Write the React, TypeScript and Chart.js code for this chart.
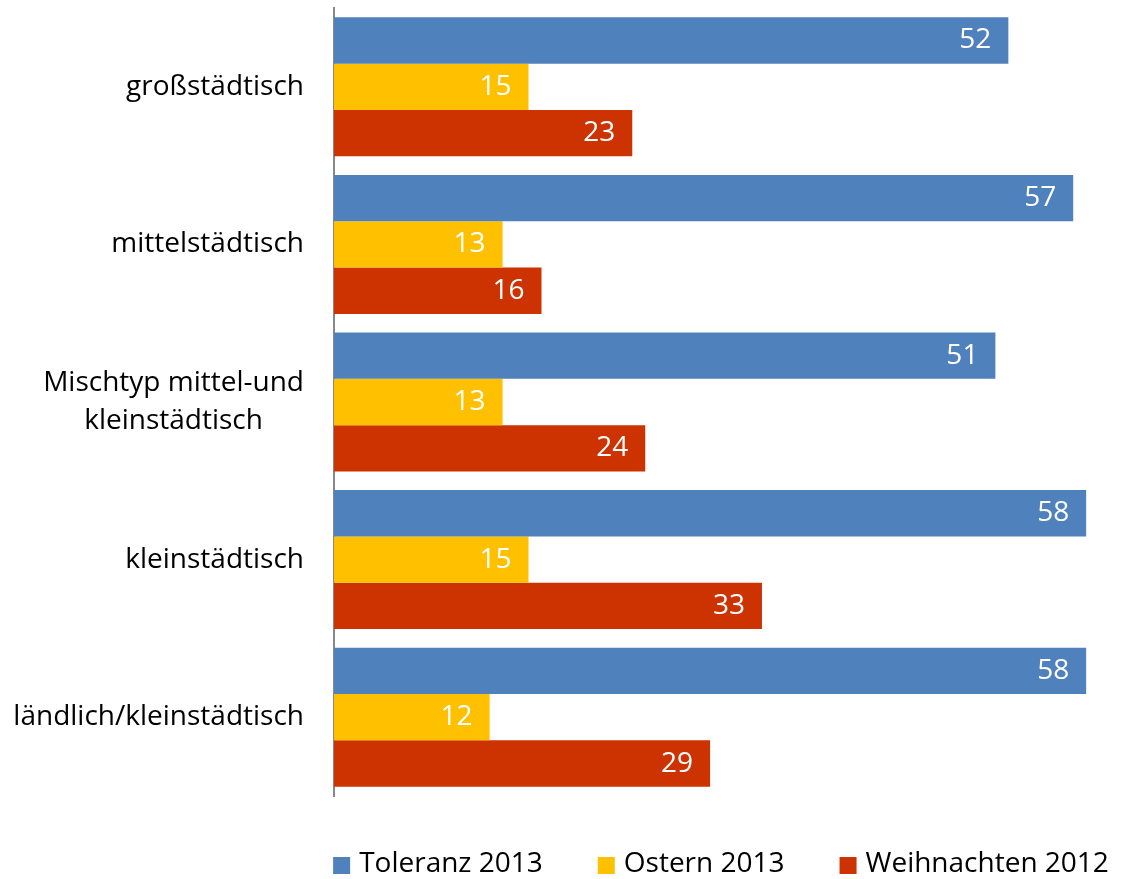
import { useEffect, useRef } from "react";
import { Chart, registerables } from "chart.js";

Chart.register(...registerables);

const categories: string[][] = [
  ["großstädtisch"],
  ["mittelstädtisch"],
  ["Mischtyp mittel-und", "kleinstädtisch"],
  ["kleinstädtisch"],
  ["ländlich/kleinstädtisch"],
];
const seriesNames = ["Toleranz 2013", "Ostern 2013", "Weihnachten 2012"];
const toleranz = [52, 57, 51, 58, 58];
const ostern = [15, 13, 13, 15, 12];
const weihnachten = [23, 16, 24, 33, 29];
const seriesColors = ["#4F81BD", "#FFC000", "#CC3300"];

const FONT = "'Open Sans', Lato, sans-serif";
const FONT_SIZE = 28;

const labelsPlugin = {
  id: "customLabels",
  afterDraw(chart: any) {
    const ctx = chart.ctx as CanvasRenderingContext2D;
    const yScale = chart.scales.y;
    ctx.save();
    ctx.font = `${FONT_SIZE}px ${FONT}`;
    // category labels
    ctx.fillStyle = "#000000";
    ctx.textBaseline = "middle";
    const rightX = chart.chartArea.left - 30;
    const lineH = 38;
    categories.forEach((lines, i) => {
      const cy = yScale.getPixelForValue(i);
      const widths = lines.map((l) => ctx.measureText(l).width);
      const maxW = Math.max(...widths);
      const centerX = rightX - maxW / 2;
      ctx.textAlign = "center";
      lines.forEach((l, j) => {
        const y = cy + (j - (lines.length - 1) / 2) * lineH;
        ctx.fillText(l, centerX, y);
      });
    });
    // data labels
    ctx.fillStyle = "#FFFFFF";
    ctx.textAlign = "right";
    chart.data.datasets.forEach((ds: any, di: number) => {
      const meta = chart.getDatasetMeta(di);
      meta.data.forEach((el: any, i: number) => {
        ctx.fillText(String(ds.data[i]), el.x - 17, el.y);
      });
    });
    // legend
    const box = 17;
    const gapBoxText = 9;
    const gapItems = 55;
    const items = chart.data.datasets.map((ds: any) => ({
      label: ds.label as string,
      color: ds.backgroundColor as string,
      w: ctx.measureText(ds.label).width,
    }));
    const total =
      items.reduce((s: number, it: any) => s + box + gapBoxText + it.w, 0) +
      gapItems * (items.length - 1);
    let x = 721 - total / 2;
    const ly = 864;
    ctx.textAlign = "left";
    items.forEach((it: any) => {
      ctx.fillStyle = it.color;
      ctx.fillRect(x, 857, box, box);
      ctx.fillStyle = "#000000";
      ctx.fillText(it.label, x + box + gapBoxText, ly);
      x += box + gapBoxText + it.w + gapItems;
    });
    ctx.restore();
  },
};

export default function App() {
  const ref = useRef<HTMLCanvasElement | null>(null);
  useEffect(() => {
    if (!ref.current) return;
    const chart = new Chart(ref.current, {
      type: "bar",
      data: {
        labels: categories.map((c) => c.join(" ")),
        datasets: [toleranz, ostern, weihnachten].map((d, i) => ({
          label: seriesNames[i],
          data: d,
          backgroundColor: seriesColors[i],
          borderWidth: 0,
          categoryPercentage: 0.882,
          barPercentage: 1.0,
        })),
      },
      options: {
        indexAxis: "y",
        responsive: false,
        animation: false,
        devicePixelRatio: 1,
        layout: { padding: { top: 8, right: 8, bottom: 83, left: 0 } },
        plugins: {
          legend: { display: false },
          tooltip: { enabled: false },
        },
        scales: {
          x: {
            display: false,
            min: 0,
            max: 60.3,
          },
          y: {
            position: "left",
            grid: { display: false },
            ticks: { display: false },
            border: { display: true, color: "#888888", width: 2 },
            afterFit: (s: any) => {
              s.width = 334;
            },
          },
        },
      },
      plugins: [labelsPlugin],
    });
    return () => chart.destroy();
  }, []);
  return (
    <div style={{ position: "absolute", left: 0, top: 0, width: 1124, height: 879, background: "#fff" }}>
      <canvas ref={ref} width={1124} height={879} style={{ display: "block" }} />
    </div>
  );
}
